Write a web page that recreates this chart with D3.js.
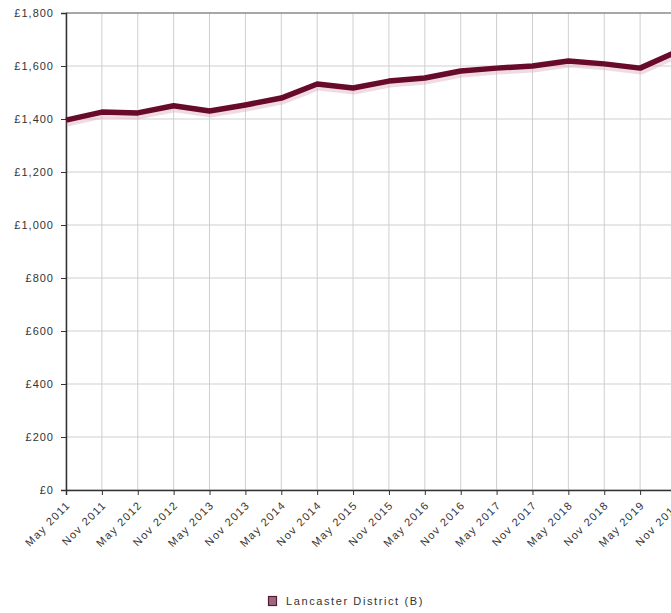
<!DOCTYPE html>
<html><head><meta charset="utf-8">
<script src="https://cdn.jsdelivr.net/npm/d3@7"></script>
<style>
html,body{margin:0;padding:0;background:#fff;overflow:hidden;}
svg{display:block;}
text{font-family:"Liberation Sans",Arial,sans-serif;fill:#333;}
</style></head><body>
<svg id="chart" width="671" height="613"></svg>
<script>
const categories = ["May 2011","Nov 2011","May 2012","Nov 2012","May 2013","Nov 2013","May 2014","Nov 2014","May 2015","Nov 2015","May 2016","Nov 2016","May 2017","Nov 2017","May 2018","Nov 2018","May 2019","Nov 2019"];
const values = [1396,1426,1423,1450,1430,1453,1479,1532,1517,1543,1555,1581,1592,1600,1619,1608,1592,1653];
const yTicks = [0,200,400,600,800,1000,1200,1400,1600,1800];
const seriesName = "Lancaster District (B)";

const svg = d3.select("#chart");
const x = d3.scalePoint().domain(categories).range([66, 676]);
const y = d3.scaleLinear().domain([0,1800]).range([490,13]);
const fmt = v => "£" + d3.format(",")(v);

// grid
svg.append("g").selectAll("line").data(categories).join("line")
  .attr("x1", d=>x(d)).attr("x2", d=>x(d)).attr("y1", 13).attr("y2", 490)
  .attr("stroke", "#cfcfcf").attr("stroke-width", 1);
svg.append("g").selectAll("line").data(yTicks).join("line")
  .attr("x1", 66).attr("x2", 676).attr("y1", d=>y(d)).attr("y2", d=>y(d))
  .attr("stroke", d => d===1800 ? "#8a8a8a" : "#cfcfcf").attr("stroke-width", d => d===1800 ? 1.5 : 1);

// axes
const yAxis = d3.axisLeft(y).tickValues(yTicks).tickFormat(fmt).tickSize(5).tickPadding(7);
const gy = svg.append("g").attr("transform","translate(66,0)").call(yAxis);
gy.select(".domain").attr("stroke","#333").attr("stroke-width",1.5);
gy.selectAll(".tick line").attr("stroke","#333");
gy.selectAll(".tick text").attr("font-size","11px").attr("letter-spacing","1px").attr("fill","#444")
  .style("font-family","Liberation Sans, Arial, sans-serif");

const xAxis = d3.axisBottom(x).tickSize(5).tickPadding(2);
const gx = svg.append("g").attr("transform","translate(0,490)").call(xAxis);
gx.select(".domain").attr("stroke","#333").attr("stroke-width",1.5);
gx.selectAll(".tick line").attr("stroke","#333");
gx.selectAll(".tick text").attr("font-size","11px").attr("letter-spacing","1.4px").attr("fill","#444")
  .style("font-family","Liberation Sans, Arial, sans-serif")
  .attr("text-anchor","end").attr("dy","0.35em")
  .attr("transform","translate(-3,8) rotate(-45)");

// line
const line = d3.line().x((d,i)=>x(categories[i])).y(d=>y(d));
svg.append("path").datum(values).attr("d", line)
  .attr("transform","translate(1,4)")
  .attr("fill","none").attr("stroke","rgba(225,175,190,0.45)").attr("stroke-width",5)
  .attr("stroke-linejoin","round");
svg.append("path").datum(values).attr("d", line)
  .attr("fill","none").attr("stroke","#680a2c").attr("stroke-width",5.5)
  .attr("stroke-linejoin","round");

// legend
const lg = svg.append("g").attr("transform","translate(268,596)");
lg.append("rect").attr("x",0.5).attr("y",0.5).attr("width",8).attr("height",9)
  .attr("fill","#9a6a80").attr("stroke","#5a1a33").attr("stroke-width",1.2);
lg.append("text").attr("x",18).attr("y",5).attr("dy","0.35em")
  .attr("font-size","11px").attr("letter-spacing","1.6px").attr("fill","#444").text(seriesName);
</script>
</body></html>
